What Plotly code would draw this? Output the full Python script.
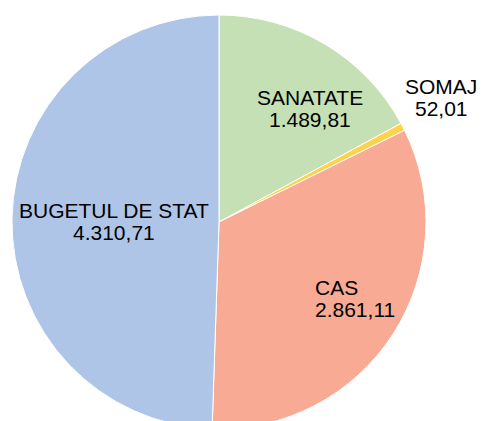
import math
import plotly.graph_objects as go

labels = ['SANATATE', 'SOMAJ', 'CAS', 'BUGETUL DE STAT']
values = [1489.81, 52.01, 2861.11, 4310.71]
value_text = ['1.489,81', '52,01', '2.861,11', '4.310,71']
colors = ['#C5E0B4', '#FFD24A', '#F8AA94', '#AEC5E8']

# label placement: (radius fraction, angle offset from slice middle, anchor)
label_pos = [(0.703, 7.9, 'center'), (1.231, -2.0, 'center'),
             (0.587, 6.5, 'left'), (0.507, -0.45, 'center')]

# page has an 8px body margin, so the figure is a little smaller than the window
W, H = 477, 421
top = 7
r = 207
cx, cy = 211, top + r

fig = go.Figure(go.Pie(
    labels=labels, values=values,
    sort=False, direction='clockwise', rotation=0,
    marker=dict(colors=colors, line=dict(color='white', width=1)),
    textinfo='none',
    domain=dict(x=[(cx - r) / W, (cx + r) / W], y=[0, 1]),
    showlegend=False,
    hoverinfo='label+value+percent',
))

total = sum(values)
start = 0
font = dict(family='Arial, Liberation Sans', size=21, color='black')
for lab, val, txt, (frac, off, anchor) in zip(labels, values, value_text, label_pos):
    mid = (start + val / 2) / total * 360 + off
    start += val
    a = math.radians(mid)
    px = cx + frac * r * math.sin(a)
    py = cy - frac * r * math.cos(a)
    x = px / W
    y = (H - py) / (H - top)
    fig.add_annotation(x=x, y=y, xref='paper', yref='paper', text=lab,
                       showarrow=False, xanchor=anchor, yanchor='middle',
                       yshift=11, font=font)
    fig.add_annotation(x=x, y=y, xref='paper', yref='paper', text=txt,
                       showarrow=False, xanchor=anchor, yanchor='middle',
                       yshift=-11, font=font)

fig.update_layout(
    width=W, height=H,
    margin=dict(l=0, r=0, t=top, b=0),
    paper_bgcolor='white',
)

fig.write_html("out.html")
